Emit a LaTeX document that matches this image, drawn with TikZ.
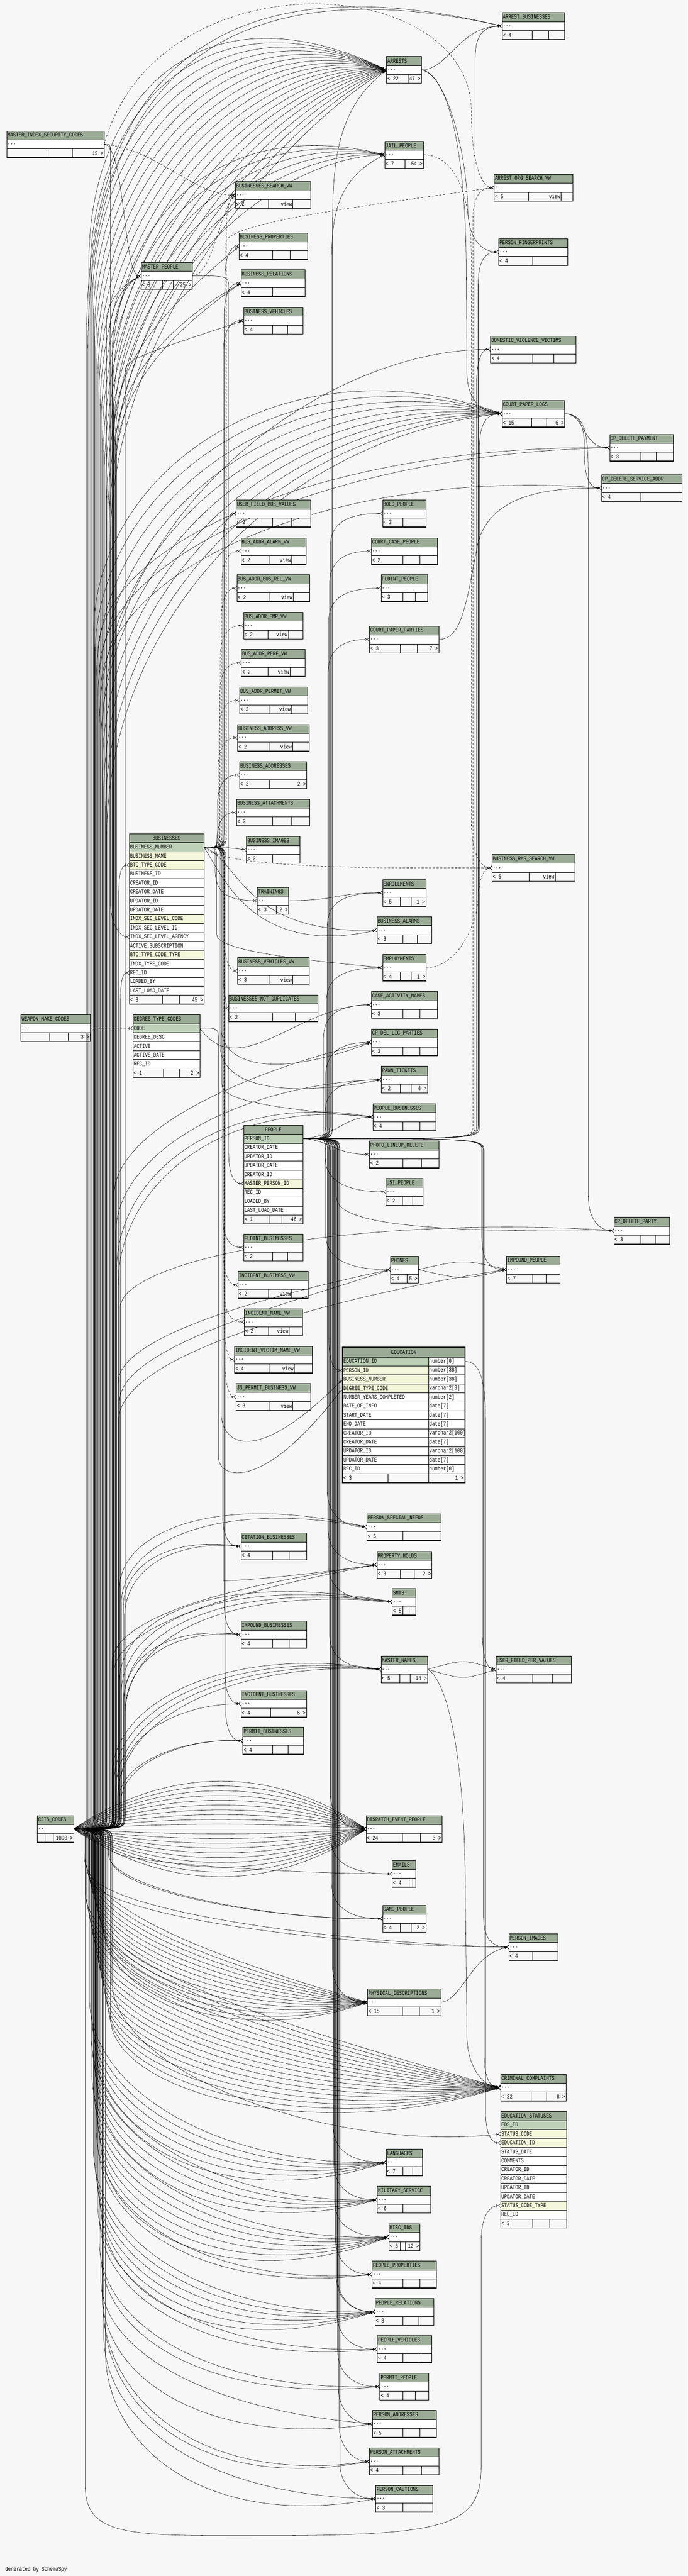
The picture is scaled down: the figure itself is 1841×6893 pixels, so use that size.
\documentclass[tikz,border=0pt]{standalone}
\usepackage{fontspec}
\newfontfamily\tabfam[FakeStretch=0.78]{Liberation Mono}
\newcommand{\tabf}{\tabfam\fontsize{16}{16}\selectfont}
\usetikzlibrary{arrows.meta}
\pgfdeclarelayer{back}
\pgfdeclarelayer{bg}
\pgfsetlayers{back,bg,main}
\definecolor{bgc}{HTML}{F7F7F7}
\definecolor{hdrc}{HTML}{9BAB96}
\definecolor{pkc}{HTML}{BED1B8}
\definecolor{fkc}{HTML}{F4F7DA}
\tikzset{
  rel/.style={draw=black, line width=0.75pt, -{Circle[open,length=6pt,width=6pt]Straight Barb[reversed,length=6pt,width=10pt]}},
  relv/.style={rel, dash pattern=on 6pt off 4pt},
  tline/.style={draw=black, line width=0.8pt},
  tbot/.style={draw=black, line width=2pt},
  ttxt/.style={font=\tabf, inner sep=2pt, text=black},
  tabbox/.style={inner sep=0pt, outer sep=0pt},
}
\newcommand{\setpt}[3]{\coordinate (#1) at (#2,#3);\expandafter\xdef\csname Y@#1\endcsname{#3}}
\newcommand{\ctab}[9]{%
  \pgfmathsetmacro\tA{#3+24}\pgfmathsetmacro\tB{#3+48}\pgfmathsetmacro\tC{#3+72}%
  \pgfmathsetmacro\tM{#3+36}\pgfmathsetmacro\tH{#3+12}\pgfmathsetmacro\tF{#3+60}%
  \pgfmathsetmacro\tW{#4-#2}\pgfmathsetmacro\tX{(#2+#4)/2}%
  \node[tabbox, minimum width=\tW pt, minimum height=72pt] (#1) at (\tX,\tM) {};
  \fill[hdrc] (#2,#3) rectangle (#4,\tA);
  \fill[white] (#2,\tA) rectangle (#4,\tB);
  \draw[tline] (#2,#3) rectangle (#4,\tC) (#2,\tA) -- (#4,\tA) (#2,\tB) -- (#4,\tB) (#5,\tB) -- (#5,\tC) (#6,\tB) -- (#6,\tC);
  \draw[tbot] (#2,\tC) -- (#4,\tC);
  \node[ttxt, anchor=west] (#1-t) at (#2,\tH) {#7};
  \node[ttxt, anchor=west] (#1-d) at (#2,\tM) {...};
  \node[ttxt, anchor=west] (#1-l) at (#2,\tF) {#8};
  \node[ttxt, anchor=east] (#1-r) at (#4,\tF) {#9};
  \setpt{#1-in}{#2}{\tM}\setpt{#1-out}{#4}{\tM}%
}
\newcommand{\vtab}[8]{\ctab{#1}{#2}{#3}{#4}{#5}{#6}{#7}{#8}{}\node[ttxt,anchor=east] (#1-v) at (#6,\tF) {view};}
\newcommand{\cn}[7][rel]{%
  \pgfmathsetmacro\qsy{\csname Y@#2\endcsname}%
  \pgfmathsetmacro\qdir{(#5>\qsy) ? 1 : -1}%
  \pgfmathsetmacro\qrr{min(35,abs(#5-\qsy)/2)}%
  \pgfmathsetmacro\qya{\qsy+\qdir*\qrr}%
  \pgfmathsetmacro\qyb{#5+0.55*(#7-#5)}%
  \draw[#1] (#2) .. controls (#4,\qsy) .. (#4,\qya) -- (#4,#5) .. controls (#4,\qyb) and (#6,#7) .. (#3);%
}
\newcommand{\fanC}[9]{\foreach \i in {0,...,#2}{\pgfmathsetmacro\qL{#3+#4*\i}\pgfmathsetmacro\qy{#5+#6*\i}\pgfmathsetmacro\qp{#8+#9*\i}\cn{cjis-out}{#1}{\qL}{\qy}{#7}{\qp}}}
\begin{document}
\begin{tikzpicture}[x=1pt,y=-1pt]
\useasboundingbox (0,0) rectangle (1841,6893);
\begin{pgfonlayer}{back}
\fill[bgc] (0,0) rectangle (1841,6893);
\end{pgfonlayer}
% ---------------- compact tables
\ctab{ab}{1344}{34}{1512}{1425}{1469}{ARREST\_BUSINESSES}{< 4}{}
\ctab{arr}{1035}{151}{1128}{1073}{1092}{ARRESTS}{< 22}{47 >}
\ctab{misc}{18}{350}{279}{129}{194}{MASTER\_INDEX\_SECURITY\_CODES}{}{19 >}
\ctab{jail}{1030}{378}{1133}{1084}{1084}{JAIL\_PEOPLE}{< 7}{54 >}
\vtab{aosv}{1323}{466}{1534}{1415}{1502}{ARREST\_ORG\_SEARCH\_VW}{< 5}
\vtab{bsv}{630}{486}{832}{718}{784}{BUSINESSES\_SEARCH\_VW}{< 2}
\ctab{bprop}{640}{623}{824}{729}{777}{BUSINESS\_PROPERTIES}{< 4}{}
\ctab{mp}{378}{702}{514}{434}{464}{MASTER\_PEOPLE}{< 8}{25 >}
\ctab{brel}{645}{722}{817}{729}{729}{BUSINESS\_RELATIONS}{< 4}{}
\ctab{bveh}{652}{822}{811}{729}{770}{BUSINESS\_VEHICLES}{< 4}{}
\ctab{pfp}{1335}{638}{1520}{1426}{1426}{PERSON\_FINGERPRINTS}{< 4}{}
\ctab{dvv}{1313}{899}{1541}{1426}{1483}{DOMESTIC\_VIOLENCE\_VICTIMS}{< 4}{}
\ctab{cpl}{1344}{1071}{1512}{1423}{1463}{COURT\_PAPER\_LOGS}{< 15}{6 >}
\ctab{cpdp}{1632}{1162}{1802}{1715}{1757}{CP\_DELETE\_PAYMENT}{< 3}{}
\ctab{cpdsa}{1610}{1270}{1826}{1715}{1715}{CP\_DELETE\_SERVICE\_ADDR}{< 4}{}
\ctab{ufbv}{632}{1338}{831}{729}{781}{USER\_FIELD\_BUS\_VALUES}{< 2}{}
\ctab{bolo}{1024}{1338}{1141}{1079}{1079}{BOLO\_PEOPLE}{< 3}{}
\vtab{baav}{645}{1439}{819}{720}{781}{BUS\_ADDR\_ALARM\_VW}{< 2}
\ctab{ccp}{994}{1439}{1171}{1079}{1124}{COURT\_CASE\_PEOPLE}{< 2}{}
\vtab{bab}{634}{1538}{829}{720}{785}{BUS\_ADDR\_BUS\_REL\_VW}{< 2}
\ctab{fldp}{1020}{1538}{1145}{1079}{1112}{FLDINT\_PEOPLE}{< 3}{}
\vtab{baev}{652}{1638}{811}{717}{772}{BUS\_ADDR\_EMP\_VW}{< 2}
\ctab{cpp}{989}{1675}{1175}{1072}{1117}{COURT\_PAPER\_PARTIES}{< 3}{7 >}
\vtab{bapf}{646}{1738}{816}{717}{776}{BUS\_ADDR\_PERF\_VW}{< 2}
\vtab{bapm}{641}{1838}{823}{720}{780}{BUS\_ADDR\_PERMIT\_VW}{< 2}
\vtab{bavw}{636}{1938}{828}{720}{783}{BUSINESS\_ADDRESS\_VW}{< 2}
\ctab{badd}{641}{2038}{821}{722}{722}{BUSINESS\_ADDRESSES}{< 3}{2 >}
\ctab{batt}{633}{2138}{829}{729}{780}{BUSINESS\_ATTACHMENTS}{< 2}{}
\ctab{bimg}{660}{2238}{803}{729}{729}{BUSINESS\_IMAGES}{< 2}{}
\vtab{brms}{1317}{2286}{1539}{1416}{1486}{BUSINESS\_RMS\_SEARCH\_VW}{< 5}
\ctab{tr}{689}{2374}{773}{723}{740}{TRAININGS}{< 3}{2 >}
\ctab{enr}{1024}{2353}{1140}{1072}{1100}{ENROLLMENTS}{< 5}{1 >}
\ctab{bal}{1009}{2453}{1156}{1079}{1117}{BUSINESS\_ALARMS}{< 3}{}
\ctab{empl}{1024}{2553}{1141}{1072}{1101}{EMPLOYMENTS}{< 4}{1 >}
\vtab{bvvw}{636}{2562}{828}{720}{783}{BUSINESS\_VEHICLES\_VW}{< 3}
\ctab{bnd}{612}{2662}{851}{729}{790}{BUSINESSES\_NOT\_DUPLICATES}{< 2}{}
\ctab{can}{994}{2653}{1171}{1079}{1124}{CASE\_ACTIVITY\_NAMES}{< 3}{}
\ctab{wmc}{56}{2715}{241}{133}{182}{WEAPON\_MAKE\_CODES}{}{3 >}
\ctab{cpdlp}{994}{2753}{1171}{1079}{1124}{CP\_DEL\_LIC\_PARTIES}{< 3}{}
\ctab{pawn}{1021}{2853}{1144}{1072}{1101}{PAWN\_TICKETS}{< 2}{4 >}
\ctab{pb}{998}{2953}{1167}{1079}{1124}{PEOPLE\_BUSINESSES}{< 4}{}
\ctab{pld}{989}{3053}{1175}{1079}{1128}{PHOTO\_LINEUP\_DELETE}{< 2}{}
\ctab{usi}{1033}{3153}{1132}{1077}{1104}{USI\_PEOPLE}{< 2}{}
\ctab{cpdpty}{1643}{3257}{1793}{1715}{1754}{CP\_DELETE\_PARTY}{< 3}{}
\ctab{fldb}{652}{3302}{811}{729}{770}{FLDINT\_BUSINESSES}{< 2}{}
\ctab{phones}{1045}{3361}{1120}{1090}{1090}{PHONES}{< 4}{5 >}
\ctab{imp}{1356}{3361}{1499}{1426}{1462}{IMPOUND\_PEOPLE}{< 7}{}
\vtab{ibvw}{637}{3402}{825}{718}{781}{INCIDENT\_BUSINESS\_VW}{< 2}
\vtab{invw}{654}{3502}{809}{718}{774}{INCIDENT\_NAME\_VW}{< 2}
\vtab{ivnvw}{628}{3602}{836}{720}{788}{INCIDENT\_VICTIM\_NAME\_VW}{< 4}
\vtab{jspvw}{632}{3702}{832}{720}{784}{JS\_PERMIT\_BUSINESS\_VW}{< 3}
\ctab{psn}{982}{4050}{1181}{1079}{1079}{PERSON\_SPECIAL\_NEEDS}{< 3}{}
\ctab{citb}{645}{4102}{820}{729}{774}{CITATION\_BUSINESSES}{< 4}{}
\ctab{ph}{1009}{4151}{1156}{1072}{1109}{PROPERTY\_HOLDS}{< 3}{2 >}
\ctab{smts}{1050}{4250}{1113}{1079}{1095}{SMTS}{< 5}{}
\ctab{impb}{645}{4338}{820}{729}{774}{IMPOUND\_BUSINESSES}{< 4}{}
\ctab{mn}{1020}{4431}{1145}{1070}{1098}{MASTER\_NAMES}{< 5}{14 >}
\ctab{ufpv}{1328}{4431}{1529}{1426}{1478}{USER\_FIELD\_PER\_VALUES}{< 4}{}
\ctab{incb}{645}{4523}{820}{724}{724}{INCIDENT\_BUSINESSES}{< 4}{6 >}
\ctab{permb}{650}{4622}{812}{729}{771}{PERMIT\_BUSINESSES}{< 4}{}
\ctab{cjis}{100}{4858}{197}{121}{142}{CJIS\_CODES}{}{1090 >}
\ctab{dep}{980}{4858}{1183}{1077}{1125}{DISPATCH\_EVENT\_PEOPLE}{< 24}{3 >}
\ctab{emails}{1050}{4978}{1113}{1095}{1104}{EMAILS}{< 4}{}
\ctab{gang}{1024}{5098}{1140}{1072}{1100}{GANG\_PEOPLE}{< 4}{2 >}
\ctab{pimg}{1362}{5174}{1493}{1426}{1426}{PERSON\_IMAGES}{< 4}{}
\ctab{pd}{984}{5322}{1180}{1077}{1122}{PHYSICAL\_DESCRIPTIONS}{< 15}{1 >}
\ctab{cc}{1340}{5550}{1515}{1422}{1463}{CRIMINAL\_COMPLAINTS}{< 22}{8 >}
\ctab{lang}{1034}{5750}{1131}{1079}{1104}{LANGUAGES}{< 7}{}
\ctab{mil}{1010}{5850}{1153}{1079}{1079}{MILITARY\_SERVICE}{< 6}{}
\ctab{mids}{1041}{5950}{1124}{1072}{1086}{MISC\_IDS}{< 8}{12 >}
\ctab{pprop}{996}{6050}{1168}{1079}{1124}{PEOPLE\_PROPERTIES}{< 4}{}
\ctab{prel}{1004}{6150}{1161}{1079}{1121}{PEOPLE\_RELATIONS}{< 8}{}
\ctab{pveh}{1010}{6250}{1155}{1079}{1118}{PEOPLE\_VEHICLES}{< 4}{}
\ctab{permp}{1017}{6350}{1147}{1079}{1112}{PERMIT\_PEOPLE}{< 4}{}
\ctab{padd}{997}{6450}{1168}{1079}{1124}{PERSON\_ADDRESSES}{< 5}{}
\ctab{patt}{989}{6550}{1175}{1079}{1128}{PERSON\_ATTACHMENTS}{< 4}{}
\ctab{pcau}{1006}{6650}{1159}{1079}{1119}{PERSON\_CAUTIONS}{< 3}{}
% ---------------- BUSINESSES
\node[tabbox, minimum width=200pt, minimum height=456pt] (bus) at (446,2459) {};
\fill[hdrc] (346,2231) rectangle (546,2255);
\node[ttxt] (bus-t) at (446,2243) {BUSINESSES};
\foreach \qn/\qc [count=\k from 0] in {BUSINESS\_NUMBER/pkc, BUSINESS\_NAME/fkc, BTC\_TYPE\_CODE/fkc, BUSINESS\_ID/white, CREATOR\_ID/white, CREATOR\_DATE/white, UPDATOR\_ID/white, UPDATOR\_DATE/white, INDX\_SEC\_LEVEL\_CODE/fkc, INDX\_SEC\_LEVEL\_ID/white, INDX\_SEC\_LEVEL\_AGENCY/white, ACTIVE\_SUBSCRIPTION/white, BTC\_TYPE\_CODE\_TYPE/fkc, INDX\_TYPE\_CODE/white, REC\_ID/white, LOADED\_BY/white, LAST\_LOAD\_DATE/white}{
  \pgfmathsetmacro\ry{2255+24*\k}
  \fill[fill=\qc] (346,\ry) rectangle (546,\ry+24);
  \draw[tline] (346,\ry) -- (546,\ry);
  \node[ttxt,anchor=west] (bus-c\k) at (346,\ry+12) {\qn};
}
\draw[tline] (346,2663) -- (546,2663) (434,2663) -- (434,2687) (480,2663) -- (480,2687);
\draw[tline] (346,2231) rectangle (546,2687);
\draw[tbot] (346,2687) -- (546,2687);
\node[ttxt,anchor=west] (bus-fl) at (346,2675) {< 3};
\node[ttxt,anchor=east] (bus-fr) at (546,2675) {45 >};
\setpt{bus-out}{546}{2267}\setpt{bus-btc}{346}{2315}\setpt{bus-isl}{346}{2507}\setpt{bus-btct}{346}{2603}
% ---------------- PEOPLE
\node[tabbox, minimum width=159pt, minimum height=264pt] (ppl) at (731.5,3143) {};
\fill[hdrc] (652,3011) rectangle (811,3035);
\node[ttxt] (ppl-t) at (731.5,3023) {PEOPLE};
\foreach \qn/\qc [count=\k from 0] in {PERSON\_ID/pkc, CREATOR\_DATE/white, UPDATOR\_ID/white, UPDATOR\_DATE/white, CREATOR\_ID/white, MASTER\_PERSON\_ID/fkc, REC\_ID/white, LOADED\_BY/white, LAST\_LOAD\_DATE/white}{
  \pgfmathsetmacro\ry{3035+24*\k}
  \fill[fill=\qc] (652,\ry) rectangle (811,\ry+24);
  \draw[tline] (652,\ry) -- (811,\ry);
  \node[ttxt,anchor=west] (ppl-c\k) at (652,\ry+12) {\qn};
}
\draw[tline] (652,3251) -- (811,3251) (720,3251) -- (720,3275) (755,3251) -- (755,3275);
\draw[tline] (652,3011) rectangle (811,3275);
\draw[tbot] (652,3275) -- (811,3275);
\node[ttxt,anchor=west] (ppl-fl) at (652,3263) {< 1};
\node[ttxt,anchor=east] (ppl-fr) at (811,3263) {46 >};
\setpt{ppl-out}{811}{3047}\setpt{ppl-mp}{652}{3167}
% ---------------- DEGREE_TYPE_CODES
\node[tabbox, minimum width=179pt, minimum height=168pt] (dtc) at (445.5,2799) {};
\fill[hdrc] (356,2715) rectangle (535,2739);
\node[ttxt,anchor=west] (dtc-t) at (356,2727) {DEGREE\_TYPE\_CODES};
\foreach \qn/\qc [count=\k from 0] in {CODE/pkc, DEGREE\_DESC/white, ACTIVE/white, ACTIVE\_DATE/white, REC\_ID/white}{
  \pgfmathsetmacro\ry{2739+24*\k}
  \fill[fill=\qc] (356,\ry) rectangle (535,\ry+24);
  \draw[tline] (356,\ry) -- (535,\ry);
  \node[ttxt,anchor=west] (dtc-c\k) at (356,\ry+12) {\qn};
}
\draw[tline] (356,2859) -- (535,2859) (437,2859) -- (437,2883) (480,2859) -- (480,2883);
\draw[tline] (356,2715) rectangle (535,2883);
\draw[tbot] (356,2883) -- (535,2883);
\node[ttxt,anchor=west] (dtc-fl) at (356,2871) {< 1};
\node[ttxt,anchor=east] (dtc-fr) at (535,2871) {2 >};
\setpt{dtc-in}{356}{2751}\setpt{dtc-out}{535}{2751}
% ---------------- EDUCATION_STATUSES
\node[tabbox, minimum width=177pt, minimum height=312pt] (eds) at (1428.5,5806) {};
\fill[hdrc] (1340,5650) rectangle (1517,5674);
\node[ttxt,anchor=west] (eds-t) at (1340,5662) {EDUCATION\_STATUSES};
\foreach \qn/\qc [count=\k from 0] in {EDS\_ID/pkc, STATUS\_CODE/fkc, EDUCATION\_ID/fkc, STATUS\_DATE/white, COMMENTS/white, CREATOR\_ID/white, CREATOR\_DATE/white, UPDATOR\_ID/white, UPDATOR\_DATE/white, STATUS\_CODE\_TYPE/fkc, REC\_ID/white}{
  \pgfmathsetmacro\ry{5674+24*\k}
  \fill[fill=\qc] (1340,\ry) rectangle (1517,\ry+24);
  \draw[tline] (1340,\ry) -- (1517,\ry);
  \node[ttxt,anchor=west] (eds-c\k) at (1340,\ry+12) {\qn};
}
\draw[tline] (1340,5938) -- (1517,5938) (1426,5938) -- (1426,5962) (1471,5938) -- (1471,5962);
\draw[tline] (1340,5650) rectangle (1517,5962);
\draw[tbot] (1340,5962) -- (1517,5962);
\node[ttxt,anchor=west] (eds-fl) at (1340,5950) {< 3};
\setpt{eds-sc}{1340}{5710}\setpt{eds-eid}{1340}{5734}\setpt{eds-sct}{1340}{5902}
% ---------------- EDUCATION
\node[tabbox, minimum width=328pt, minimum height=362pt] (edu) at (1081,3786) {};
\fill[hdrc] (917,3605) rectangle (1245,3631);
\node[ttxt] (edu-t) at (1081,3618) {EDUCATION};
\foreach \qn/\qt/\qc [count=\k from 0] in {EDUCATION\_ID/number[0]/pkc, PERSON\_ID/number[38]/fkc, BUSINESS\_NUMBER/number[38]/fkc, DEGREE\_TYPE\_CODE/varchar2[3]/fkc, NUMBER\_YEARS\_COMPLETED/number[2]/white, DATE\_OF\_INFO/date[7]/white, START\_DATE/date[7]/white, END\_DATE/date[7]/white, CREATOR\_ID/varchar2[100]/white, CREATOR\_DATE/date[7]/white, UPDATOR\_ID/varchar2[100]/white, UPDATOR\_DATE/date[7]/white, REC\_ID/number[0]/white}{
  \pgfmathsetmacro\ry{3631+24*\k}
  \fill[fill=\qc] (917,\ry) rectangle (1147,\ry+24);
  \fill[white] (1147,\ry) rectangle (1245,\ry+24);
  \draw[tline] (917,\ry) -- (1245,\ry) (1147,\ry) -- (1147,\ry+24);
  \node[ttxt,anchor=west] (edu-c\k) at (917,\ry+12) {\qn};
  \node[ttxt,anchor=west] (edu-y\k) at (1147,\ry+12) {\qt};
}
\draw[tline] (917,3943) -- (1245,3943) (1039,3943) -- (1039,3967) (1147,3943) -- (1147,3967);
\draw[line width=3pt] (917,3605) rectangle (1245,3967);
\node[ttxt,anchor=west] (edu-fl) at (917,3955) {< 3};
\node[ttxt,anchor=east] (edu-fr) at (1243,3955) {1 >};
\setpt{edu-out}{1245}{3643}\setpt{edu-pid}{917}{3667}\setpt{edu-bn}{917}{3691}\setpt{edu-dtc}{917}{3715}
\node[ttxt,anchor=west] (gen) at (12,6875) {Generated by SchemaSpy};
% ================= connectors
\begin{pgfonlayer}{bg}
% --- CJIS_CODES upward
\fanC{ab-in}{1}{232}{3}{900}{40}{470}{-140}{15}
\foreach \i in {0,...,19}{\pgfmathsetmacro\qL{238+3*\i}\pgfmathsetmacro\qy{700+40*\i}\pgfmathsetmacro\qx{520+15*\i}\pgfmathsetmacro\qp{-60+20*\i}\cn{cjis-out}{arr-in}{\qL}{\qy}{\qx}{\qp}}
\foreach \i in {0,...,5}{\pgfmathsetmacro\qL{300+2*\i}\pgfmathsetmacro\qy{1000+50*\i}\pgfmathsetmacro\qx{560+30*\i}\pgfmathsetmacro\qp{300+25*\i}\cn{cjis-out}{jail-in}{\qL}{\qy}{\qx}{\qp}}
\cn{cjis-out}{bprop-in}{306}{1150}{470}{800}
\fanC{brel-in}{1}{309}{3}{1200}{30}{480}{850}{20}
\cn{cjis-out}{bveh-in}{335}{990}{420}{935}
\fanC{mp-in}{2}{285}{8}{860}{40}{330}{760}{0}
\fanC{cpl-in}{9}{250}{4}{1700}{60}{760}{900}{30}
\fanC{cpdp-in}{1}{262}{4}{1750}{50}{900}{1190}{25}
\cn{cjis-out}{cpdsa-in}{270}{1850}{900}{1250}
\cn{cjis-out}{dvv-in}{275}{1950}{850}{935}
\cn{cjis-out}{bus-btc}{318}{2400}{320}{2315}
\cn{cjis-out}{bus-btct}{322}{2700}{324}{2603}
\cn{cjis-out}{cpdlp-in}{305}{3200}{720}{2850}
\cn{cjis-out}{pawn-in}{310}{3300}{650}{2900}
\fanC{pb-in}{1}{312}{4}{3400}{40}{600}{2920}{20}
\fanC{phones-in}{1}{316}{4}{3700}{50}{800}{3450}{30}
\cn{cjis-out}{imp-in}{318}{3800}{1000}{3450}
\cn{cjis-out}{cpdpty-in}{322}{3500}{1000}{3250}
\fanC{psn-in}{1}{320}{5}{4250}{40}{560}{3990}{20}
\fanC{citb-in}{1}{330}{3}{4300}{30}{440}{4110}{10}
\fanC{ph-in}{1}{300}{4}{4450}{30}{560}{4250}{20}
\fanC{smts-in}{3}{320}{5}{4500}{30}{560}{4200}{15}
\fanC{impb-in}{1}{332}{3}{4550}{30}{440}{4350}{10}
\fanC{mn-in}{3}{300}{5}{4750}{20}{600}{4400}{15}
\cn{cjis-out}{incb-in}{325}{4760}{470}{4560}
\fanC{permb-in}{1}{320}{4}{4810}{10}{480}{4650}{0}
% --- lens to DISPATCH_EVENT_PEOPLE
\foreach \i in {-10,...,10}{\pgfmathsetmacro\qd{4894+17*\i}\draw[rel] (cjis-out) .. controls (450,\qd) and (730,\qd) .. (dep-in);}
% --- CJIS_CODES downward
\cn{cjis-out}{emails-in}{300}{4950}{800}{5014}
\fanC{gang-in}{1}{290}{5}{4960}{10}{750}{5140}{0}
\fanC{pimg-in}{1}{236}{3}{5000}{20}{900}{5200}{10}
\fanC{pd-in}{13}{225}{4}{4960}{15}{620}{5250}{18}
\fanC{cc-in}{17}{228}{4}{5060}{20}{820}{5440}{18}
\cn{cjis-out}{eds-sc}{300}{5300}{900}{5760}
\fanC{lang-in}{5}{240}{4}{5350}{30}{600}{5800}{25}
\fanC{mil-in}{4}{244}{4}{5450}{30}{600}{5900}{25}
\fanC{mids-in}{6}{246}{4}{5550}{30}{600}{6000}{25}
\fanC{pprop-in}{1}{258}{4}{5700}{30}{560}{6120}{20}
\fanC{prel-in}{5}{250}{4}{5750}{30}{560}{6200}{25}
\fanC{pveh-in}{1}{262}{4}{5900}{30}{560}{6300}{30}
\fanC{permp-in}{1}{266}{4}{6000}{30}{560}{6400}{30}
\fanC{padd-in}{1}{270}{4}{6100}{40}{560}{6450}{100}
\fanC{patt-in}{1}{274}{4}{6150}{30}{540}{6650}{20}
\fanC{pcau-in}{1}{278}{4}{6250}{40}{560}{6680}{90}
\draw[rel] (cjis-out) .. controls (228,4894) .. (228,4930) -- (228,6650) .. controls (228,6790) and (350,6785) .. (700,6785) .. controls (1200,6785) and (1288,6760) .. (1288,6600) -- (1288,6000) .. controls (1288,5930) and (1310,5902) .. (eds-sct);
% --- PEOPLE
\cn{ppl-out}{arr-in}{890}{650}{890}{300}
\cn{ppl-out}{jail-in}{888}{700}{900}{480}
\foreach \qd/\qa/\qb in {bolo-in/884/1374, ccp-in/882/1475, fldp-in/880/1574, cpp-in/878/1711, enr-in/876/2389, empl-in/874/2590, can-in/866/2689, cpdlp-in/872/2789, pawn-in/870/2889}{\pgfmathsetmacro\qy{\qb+90}\pgfmathsetmacro\qx{\qa+25}\cn{ppl-out}{\qd}{\qa}{\qy}{\qx}{\qb}}
\draw[rel] (ppl-out) .. controls (900,3040) and (920,2989) .. (pb-in);
\foreach \qd/\qa/\qb in {ab-in/1272/70, pfp-in/1280/674, dvv-in/1276/935, cpl-in/1284/1107}{\pgfmathsetmacro\qy{\qb+90}\pgfmathsetmacro\qx{\qa+10}\cn{ppl-out}{\qd}{\qa}{\qy}{\qx}{\qb}}
\cn[relv]{ppl-out}{aosv-in}{1266}{592}{1276}{502}
\cn{ppl-out}{cpdpty-in}{900}{3200}{1000}{3300}
\foreach \qd/\qa/\qb in {imp-in/1290/3397, ufpv-in/1292/4467, pimg-in/1294/5210, cc-in/1296/5586}{\pgfmathsetmacro\qy{\qb-90}\pgfmathsetmacro\qx{\qa+10}\cn{ppl-out}{\qd}{\qa}{\qy}{\qx}{\qb}}
\draw[rel] (ppl-out) .. controls (880,3050) and (900,3089) .. (pld-in);
\cn{ppl-out}{edu-pid}{880}{3560}{884}{3667}
\foreach \qd/\qa/\qb in {usi-in/870/3189, phones-in/872/3397, psn-in/876/4086, ph-in/878/4187, smts-in/880/4286, mn-in/882/4467, dep-in/884/4894, emails-in/886/5014, gang-in/888/5134, pd-in/890/5358, lang-in/892/5786, mil-in/894/5886, mids-in/896/5986, pprop-in/898/6086, prel-in/900/6186, prel-in/903/6186, pveh-in/902/6286, permp-in/904/6386, padd-in/906/6486, patt-in/908/6586, pcau-in/910/6686}{\pgfmathsetmacro\qy{\qb-95}\pgfmathsetmacro\qx{\qa+35}\cn{ppl-out}{\qd}{\qa}{\qy}{\qx}{\qb}}
% --- BUSINESSES
\draw[rel] (bus-out) .. controls (600,2267) .. (bimg-in);
\foreach \qd/\qa/\qb in {batt-in/580/2174, badd-in/582/2074, ufbv-in/596/1374, bveh-in/598/858, brel-in/600/758, bprop-in/602/659}{\pgfmathsetmacro\qy{\qb+86}\pgfmathsetmacro\qx{\qa+12}\cn{bus-out}{\qd}{\qa}{\qy}{\qx}{\qb}}
\foreach \qd/\qa/\qb in {bavw-in/584/1974, bapm-in/586/1874, bapf-in/588/1774, baev-in/590/1674, bab-in/592/1574, baav-in/594/1475, bsv-in/606/522}{\pgfmathsetmacro\qy{\qb+86}\pgfmathsetmacro\qx{\qa+12}\cn[relv]{bus-out}{\qd}{\qa}{\qy}{\qx}{\qb}}
\foreach \qd/\qa/\qb in {tr-in/576/2410, bnd-in/598/2698, fldb-in/596/3338, citb-in/596/4138, impb-in/600/4374, incb-in/602/4559, permb-in/604/4658}{\pgfmathsetmacro\qy{\qb-86}\pgfmathsetmacro\qx{\qa+12}\cn{bus-out}{\qd}{\qa}{\qy}{\qx}{\qb}}
\foreach \qd/\qa/\qb in {bvvw-in/600/2598, ibvw-in/598/3438, invw-in/600/3538, ivnvw-in/600/3638, jspvw-in/602/3738}{\pgfmathsetmacro\qy{\qb-86}\pgfmathsetmacro\qx{\qa+12}\cn[relv]{bus-out}{\qd}{\qa}{\qy}{\qx}{\qb}}
\cn{bus-out}{edu-bn}{592}{3780}{680}{3930}
\draw[rel] (bus-out) .. controls (640,2300) and (650,2500) .. (bal-in);
\draw[rel] (bus-out) .. controls (600,2350) and (680,2560) .. (bal-in);
\cn{bus-out}{empl-in}{580}{2500}{700}{2560}
\cn{bus-out}{cpdlp-in}{592}{2750}{700}{2900}
\cn{bus-out}{pawn-in}{590}{2800}{700}{2950}
\cn{bus-out}{pb-in}{594}{2900}{650}{2960}
\cn{bus-out}{ph-in}{598}{4230}{700}{4230}
\cn[relv]{bus-out}{aosv-in}{604}{650}{900}{560}
\draw[relv] (bus-out) .. controls (600,2330) and (1100,2322) .. (brms-in);
% --- other relations
\draw[rel] (arr-out) .. controls (1200,187) and (1230,70) .. (ab-in);
\draw[rel] (arr-out) .. controls (1190,190) and (1250,400) .. (1252,560) .. controls (1254,640) and (1290,674) .. (pfp-in);
\draw[rel] (arr-out) .. controls (1200,200) and (1245,400) .. (1248,700) -- (1250,1000) .. controls (1252,1080) and (1300,1107) .. (cpl-in);
\draw[relv] (jail-out) .. controls (1200,415) and (1262,480) .. (1262,700) -- (1262,2200) .. controls (1262,2290) and (1290,2322) .. (brms-in);
\draw[relv] (empl-out) .. controls (1220,2590) and (1278,2480) .. (1280,2400) .. controls (1282,2345) and (1300,2322) .. (brms-in);
\draw[rel] (tr-out) .. controls (900,2410) and (900,2389) .. (enr-in);
\draw[rel] (cpl-out) .. controls (1565,1107) and (1560,1198) .. (cpdp-in);
\draw[rel] (cpl-out) .. controls (1560,1110) and (1565,1150) .. (1565,1220) .. controls (1565,1280) and (1580,1306) .. (cpdsa-in);
\draw[rel] (cpl-out) .. controls (1570,1110) and (1575,1160) .. (1575,1300) -- (1575,3200) .. controls (1575,3270) and (1610,3293) .. (cpdpty-in);
\draw[rel] (cpp-out) .. controls (1240,1711) and (1250,1600) .. (1280,1450) .. controls (1320,1310) and (1500,1306) .. (cpdsa-in);
\draw[rel] (phones-out) .. controls (1240,3370) .. (imp-in);
\draw[rel] (phones-out) .. controls (1240,3425) .. (imp-in);
\draw[rel] (mn-out) .. controls (1240,4440) .. (ufpv-in);
\draw[rel] (mn-out) .. controls (1240,4495) .. (ufpv-in);
\draw[rel] (mn-out) .. controls (1200,4500) and (1240,4700) .. (1245,5000) -- (1250,5450) .. controls (1252,5540) and (1300,5586) .. (cc-in);
\draw[rel] (pd-out) .. controls (1240,5350) and (1260,5230) .. (pimg-in);
\draw[rel] (edu-out) .. controls (1280,3643) and (1300,3680) .. (1300,3800) -- (1300,5650) .. controls (1300,5710) and (1315,5734) .. (eds-eid);
\cn{mp-out}{ppl-mp}{612}{3080}{620}{3167}
\draw[relv] (mp-out) .. controls (570,738) and (590,560) .. (bsv-in);
\draw[relv] (misc-out) .. controls (420,400) and (520,522) .. (bsv-in);
\draw[relv] (misc-out) .. controls (420,-120) and (1262,-80) .. (1262,300) .. controls (1262,440) and (1290,502) .. (aosv-in);
\cn{misc-out}{bus-isl}{296}{2420}{320}{2507}
\draw[rel] (misc-out) .. controls (335,390) and (330,738) .. (mp-in);
\draw[relv] (wmc-out) -- (dtc-in);
\cn{dtc-out}{edu-dtc}{585}{3900}{700}{4000}
\draw[rel] (dtc-out) .. controls (640,2900) and (800,2689) .. (can-in);
\end{pgfonlayer}
\end{tikzpicture}
\end{document}
